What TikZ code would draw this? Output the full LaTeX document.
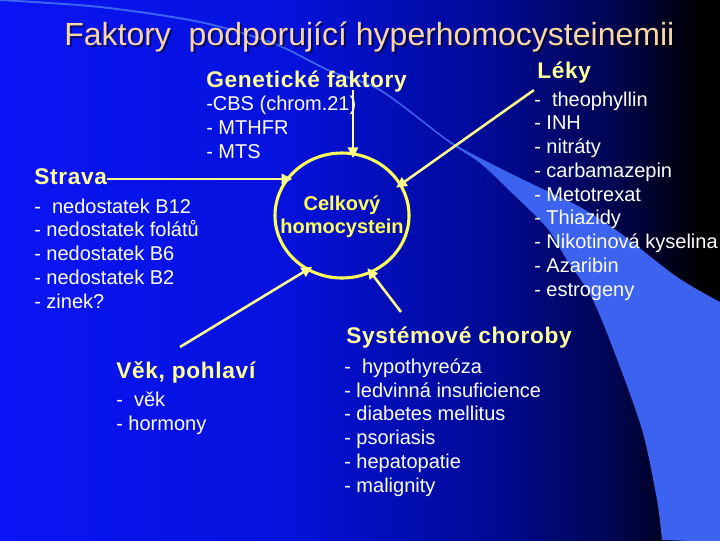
\documentclass[tikz,border=0pt]{standalone}
\usepackage{fontspec}
\setmainfont{Liberation Sans}
\newfontfamily\spacedfont[LetterSpace=3]{Liberation Sans}
\usetikzlibrary{shapes.geometric,arrows.meta}

\definecolor{titlePeach}{RGB}{250,214,166}
\definecolor{headYellow}{RGB}{255,255,153}
\definecolor{ringYellow}{RGB}{255,255,90}
\definecolor{arrowYellow}{RGB}{255,255,140}
\definecolor{bandBlue}{RGB}{60,98,240}

% visible part of the shading runs from 25bp to 75bp
\pgfdeclarehorizontalshading{slideShade}{100bp}{rgb(0bp)=(0.04,0.08,0.96); rgb(25bp)=(0.04,0.08,0.96); rgb(45bp)=(0.02,0.07,0.86); rgb(59bp)=(0,0.04,0.58); rgb(67.5bp)=(0,0.02,0.32); rgb(73.5bp)=(0,0,0); rgb(100bp)=(0,0,0)}

\tikzset{
  headText/.style={inner sep=0.75pt, anchor=base west, text=headYellow, font=\spacedfont\bfseries\fontsize{17}{20}\selectfont},
  listText/.style={inner sep=0.75pt, anchor=base west, align=left, text=white, font=\fontsize{15}{17.8}\selectfont},
  feed/.style={draw=arrowYellow, line width=1.9pt, -{Triangle[length=8pt,width=7.5pt]}, shorten >=-5pt},
}

\begin{document}
\begin{tikzpicture}[x=0.75pt,y=0.75pt,yscale=-1,xscale=1]
\useasboundingbox (0,0) rectangle (720,540);
\clip (0,0) rectangle (720,540);

%Background
\shade [shading=slideShade] (0,0) rectangle (720,540);
%Shape: Band
\fill [bandBlue] plot [smooth] coordinates {(0,1) (100,8) (200,23) (275,45) (330,72) (380,91) (447,141) (480,163) (513,194) (547,228) (567,260) (593,300) (620,367) (643,433) (657,500) (662,540)} -- (722,542) -- (722,302) -- plot [smooth] coordinates {(720,302) (677,277) (620,233) (580,207) (530,183) (480,158) (447,139) (380,89) (330,70) (275,43) (200,21) (100,6) (0,-1)} -- cycle;

% Text Node
\draw (65,47) node [anchor=base west,inner sep=0.75pt,text=black,opacity=0.5,font=\fontsize{24}{28}\selectfont] (titleShadow) {Faktory\ \ podporující hyperhomocysteinemii};
% Text Node
\draw (63,45) node [anchor=base west,inner sep=0.75pt,text=titlePeach,font=\fontsize{24}{28}\selectfont] (title) {Faktory\ \ podporující hyperhomocysteinemii};

%Shape: Ellipse
\draw (342,215.5) node [ellipse,draw=ringYellow,line width=2.3pt,minimum width=100.5pt,minimum height=93.75pt,inner sep=0pt] (hcy) {};
% Text Node (base = last line)
\draw (342,233) node [anchor=base,inner sep=0.75pt,align=center,text=ringYellow,font=\bfseries\fontsize{15}{17.25}\selectfont] (hcyText) {Celkový\\homocystein};

% Text Node
\draw (205,87) node [headText] (gen) {Genetické faktory};
\draw (205,158) node [listText] (genList) {-CBS (chrom.21)\\- MTHFR\\- MTS};
% Text Node
\draw (33,184) node [headText] (strava) {Strava};
\draw (33,308) node [listText] (stravaList) {-\ \ nedostatek B12\\- nedostatek folátů\\- nedostatek B6\\- nedostatek B2\\- zinek?};
% Text Node
\draw (536,78) node [headText] (leky) {Léky};
\draw (533,296) node [listText] (lekyList) {-\ \ theophyllin\\- INH\\- nitráty\\- carbamazepin\\- Metotrexat\\- Thiazidy\\- Nikotinová kyselina\\- Azaribin\\- estrogeny};
% Text Node
\draw (345,343) node [headText] (syst) {Systémové choroby};
\draw (343,492) node [listText] (systList) {-\ \ hypothyreóza\\- ledvinná insuficience\\- diabetes mellitus\\- psoriasis\\- hepatopatie\\- malignity};
% Text Node
\draw (115,378) node [headText] (vek) {Věk, pohlaví};
\draw (115,430) node [listText] (vekList) {-\ \ věk\\- hormony};

%Straight Lines
\coordinate (genTail) at (353,90);
\coordinate (stravaTail) at (107,179);
\coordinate (lekyTail) at (534,90);
\coordinate (vekTail) at (180,347);
\coordinate (systTail) at (401,312);
\draw [feed] (genTail) -- (genTail |- hcy.north);
\draw [feed] (stravaTail) -- (stravaTail -| hcy.147);
\draw [feed] (lekyTail) -- (hcy.28);
\draw [feed] (vekTail) -- (hcy.237);
\draw [feed] (systTail) -- (hcy.297);

\end{tikzpicture}
\end{document}
